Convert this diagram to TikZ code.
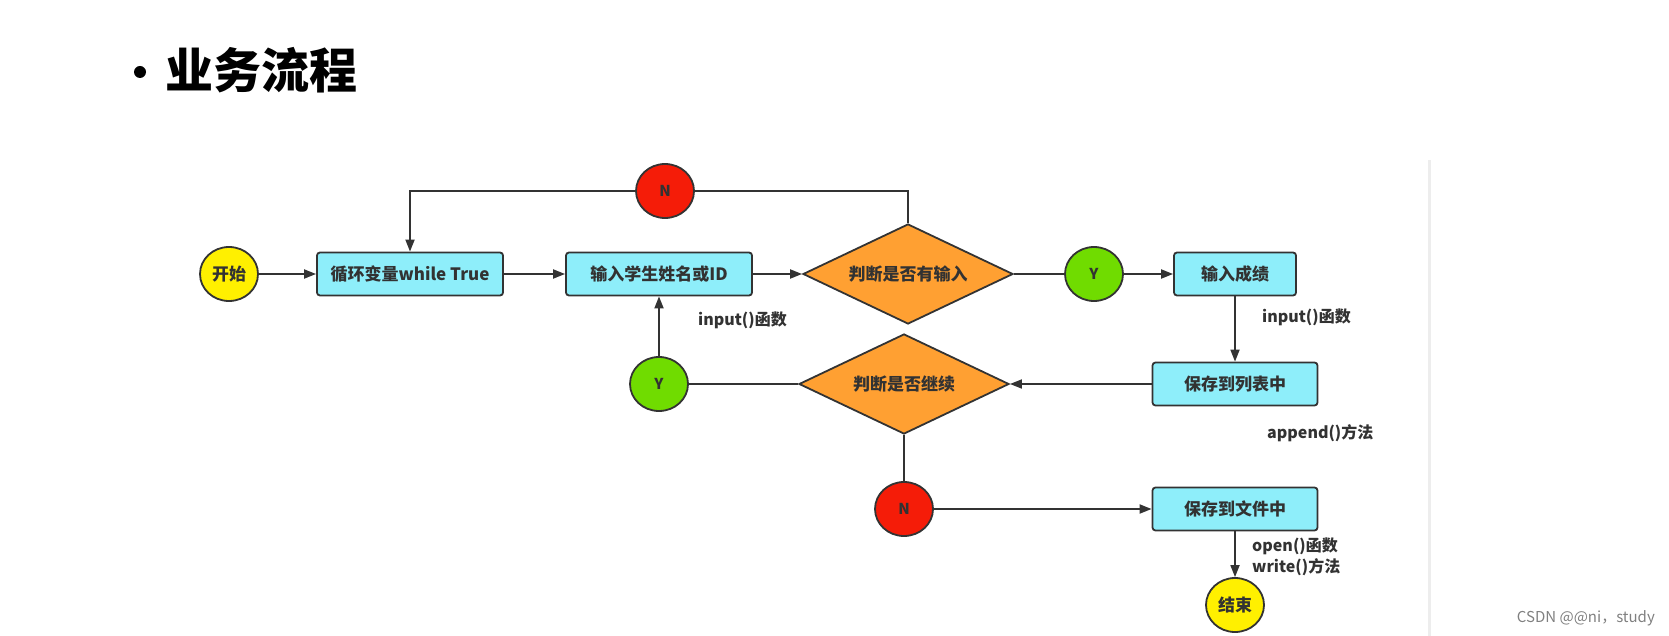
\documentclass[tikz,border=0pt]{standalone}
\usepackage{fontspec}
\setmainfont{Noto Sans CJK SC}
\usepackage{xcolor}
\usepackage{tikz}
\usetikzlibrary{positioning,arrows.meta,shapes.geometric}
\definecolor{boxcolor}{RGB}{142,238,250}
\definecolor{decisioncolor}{RGB}{255,160,50}
\definecolor{termcolor}{RGB}{255,240,0}
\definecolor{yescolor}{RGB}{112,220,0}
\definecolor{nocolor}{RGB}{245,28,8}
\definecolor{edgecolor}{RGB}{51,51,51}
\definecolor{labelcolor}{RGB}{50,50,50}
\tikzset{
  flow box/.style={
    rectangle,
    rounded corners=3pt,
    draw=edgecolor,
    fill=boxcolor,
    line width=1.8pt,
    minimum height=43pt,
    inner sep=0pt,
    text=labelcolor,
    font=\fontsize{17}{17}\selectfont\bfseries
  },
  flow decision/.style={
    diamond,
    aspect=2.1,
    draw=edgecolor,
    fill=decisioncolor,
    line width=1.8pt,
    minimum width=210pt,
    minimum height=100pt,
    inner sep=0pt,
    text=labelcolor,
    font=\fontsize{17}{17}\selectfont\bfseries
  },
  flow term/.style={
    ellipse,
    draw=edgecolor,
    fill=termcolor,
    line width=1.8pt,
    minimum width=58pt,
    minimum height=54pt,
    inner sep=0pt,
    text=labelcolor,
    font=\fontsize{17}{17}\selectfont\bfseries
  },
  flow yes/.style={
    flow term,
    fill=yescolor,
    font=\fontsize{15}{15}\selectfont\bfseries
  },
  flow no/.style={
    flow term,
    fill=nocolor,
    font=\fontsize{15}{15}\selectfont\bfseries
  },
  note/.style={
    anchor=west,
    inner sep=0pt,
    text=labelcolor,
    font=\fontsize{16}{21}\selectfont\bfseries
  },
  arrow/.style={
    -{Triangle[length=12pt,width=9pt]},
    draw=edgecolor,
    line width=1.8pt
  },
  line/.style={
    draw=edgecolor,
    line width=1.8pt
  }
}

\begin{document}
\begin{tikzpicture}[x=1pt, y=-1pt]
  \useasboundingbox (0,0) rectangle (1669,636);

  % Slide title
  \node[circle, fill=black, minimum size=12pt, inner sep=0pt] (bullet) at (140,72) {};
  \node[anchor=west, inner sep=0pt, font=\fontsize{48}{48}\selectfont\bfseries] (title) at (165,70) {业务流程};

  % Main row
  \node[flow term] (start) at (229,274) {开始};
  \node[flow box, minimum width=186pt] (loop) at (410,274) {循环变量while True};
  \node[flow box, minimum width=186pt] (name) at (659,274) {输入学生姓名或ID};
  \node[flow decision] (hasinput) at (908,274) {判断是否有输入};
  \node[flow no] (no1) at (665,191) {N};
  \node[flow yes] (yes1) at (1094,274) {Y};
  \node[flow box, minimum width=122pt] (score) at (1235,274) {输入成绩};

  % Second row
  \node[flow box, minimum width=165pt] (list) at (1235,384) {保存到列表中};
  \node[flow decision] (goon) at (904,384) {判断是否继续};
  \node[flow yes] (yes2) at (659,384) {Y};

  % Exit
  \node[flow no] (no2) at (904,509) {N};
  \node[flow box, minimum width=165pt] (file) at (1235,509) {保存到文件中};
  \node[flow term] (stop) at (1235,605) {结束};

  % Notes
  \node[note] (nameio) at (698,320) {input()函数};
  \node[note] (scoreio) at (1262,317) {input()函数};
  \node[note] (listio) at (1267,433) {append()方法};
  \node[note, align=left] (fileio) at (1252,557) {open()函数\\write()方法};

  \draw[arrow] (start) -- (loop);
  \draw[arrow] (loop) -- (name);
  \draw[arrow] (name) -- (hasinput);
  \draw[line] (hasinput.north) |- (no1);
  \draw[arrow] (no1) -| (loop);
  \draw[line] (hasinput) -- (yes1);
  \draw[arrow] (yes1) -- (score);
  \draw[arrow] (score) -- (list);
  \draw[arrow] (list) -- (goon);
  \draw[line] (goon) -- (yes2);
  \draw[arrow] (yes2) -- (name);
  \draw[line] (goon) -- (no2);
  \draw[arrow] (no2) -- (file);
  \draw[arrow] (file) -- (stop);

  % Screen edge and watermark
  \draw[black!7, line width=3pt] (1429,160) -- (1429,636);
  \node[anchor=east, inner sep=0pt, text=black!50, font=\fontsize{15}{15}\selectfont] (mark) at (1655,618) {CSDN @@ni，study};
\end{tikzpicture}
\end{document}
